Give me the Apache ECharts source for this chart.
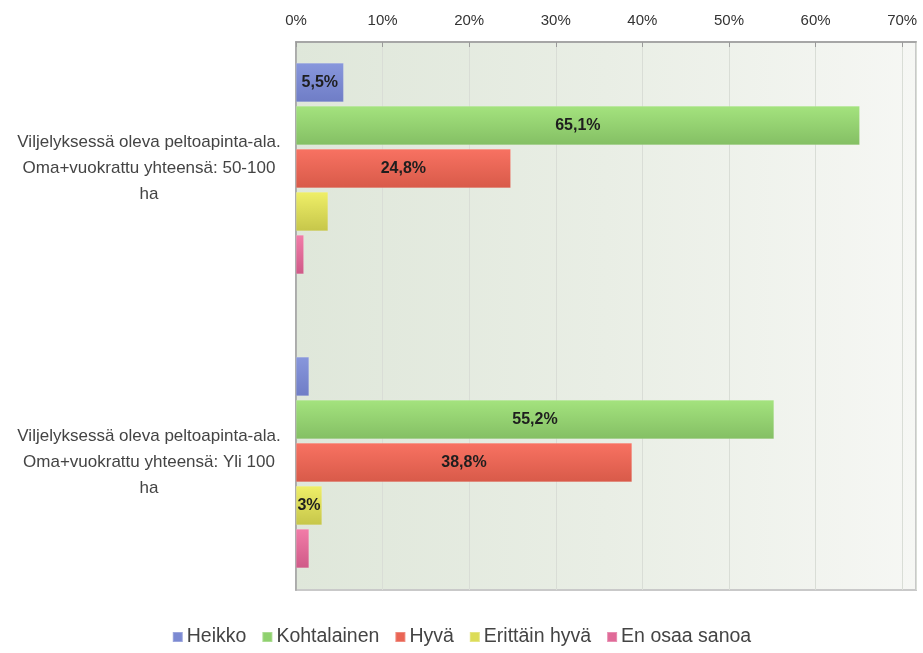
<!DOCTYPE html>
<html>
<head>
<meta charset="utf-8">
<script src="https://cdn.jsdelivr.net/npm/echarts@6/dist/echarts.min.js"></script>
<style>
  html, body { margin: 0; padding: 0; background: #ffffff; }
  #chart { width: 923px; height: 653px; }
</style>
</head>
<body>
<div id="chart"></div>
<script>
// Category labels (left axis), already split into display lines
const categories = [
  'Viljelyksessä oleva peltoapinta-ala.\nOma+vuokrattu yhteensä: 50-100\nha',
  'Viljelyksessä oleva peltoapinta-ala.\nOma+vuokrattu yhteensä: Yli 100\nha'
];

// Answer options (legend order)
const seriesNames = ['Heikko', 'Kohtalainen', 'Hyvä', 'Erittäin hyvä', 'En osaa sanoa'];

// Share of answers, % (one array per answer option, in category order)
const heikko       = [5.5, 1.5];
const kohtalainen  = [65.1, 55.2];
const hyva         = [24.8, 38.8];
const erittainHyva = [3.7, 3.0];
const enOsaa       = [0.9, 1.5];

// Value axis: ticks every 10 %, upper bound 10 % above the largest share
const axisMin = 0;
const axisInterval = 10;
const axisMax = 71.6;

const seriesValues = [heikko, kohtalainen, hyva, erittainHyva, enOsaa];

// Gradient colours per series: [top, bottom]
const palette = [
  ['#8897dc', '#6f7dc6'],
  ['#a4e37e', '#84bf64'],
  ['#f87262', '#d85a49'],
  ['#efef68', '#c6c64a'],
  ['#f27ca8', '#cf5a88']
];
const legendColors = ['#7b89d2', '#8fd16e', '#ea6555', '#dcdc58', '#e06a98'];

const PLOT_LEFT = 296, PLOT_TOP = 42, PLOT_W = 620, PLOT_H = 548;
const LABEL_FONT = 'bold 16px "Liberation Sans", Arial, sans-serif';

const measureCtx = document.createElement('canvas').getContext('2d');
measureCtx.font = LABEL_FONT;

function pctText(v) {
  return String(v).replace('.', ',') + '%';
}

// A value label is drawn only when it fits inside its bar
function barLabel(p) {
  const txt = pctText(p.value);
  const barPx = (p.value - axisMin) / (axisMax - axisMin) * PLOT_W;
  return measureCtx.measureText(txt).width <= barPx ? txt : '';
}

const chart = echarts.init(document.getElementById('chart'), null, { renderer: 'canvas' });

const series = seriesNames.map((name, i) => ({
  name: name,
  type: 'bar',
  xAxisIndex: 1,
  yAxisIndex: 1,
  data: seriesValues[i],
  barWidth: 39,
  barGap: '10.3%',
  itemStyle: {
    color: new echarts.graphic.LinearGradient(0, 0, 0, 1, [
      { offset: 0, color: palette[i][0] },
      { offset: 1, color: palette[i][1] }
    ]),
    borderColor: 'rgba(255,255,255,0.25)',
    borderWidth: 0.5
  },
  label: {
    show: true,
    position: 'inside',
    formatter: barLabel,
    color: '#1e1e1e',
    fontFamily: '"Liberation Sans", Arial, sans-serif',
    fontWeight: 'bold',
    fontSize: 16
  },
  emphasis: { disabled: true }
}));

chart.setOption({
  animation: false,
  backgroundColor: '#ffffff',
  textStyle: { fontFamily: '"Liberation Sans", Arial, sans-serif' },
  grid: [
    {
      // plot frame: background, grid lines, top axis
      left: PLOT_LEFT, top: PLOT_TOP, width: PLOT_W, height: PLOT_H,
      show: true,
      backgroundColor: new echarts.graphic.LinearGradient(0, 0, 1, 0, [
        { offset: 0, color: '#dfe7da' },
        { offset: 0.5, color: '#e9eee5' },
        { offset: 1, color: '#f6f7f4' }
      ]),
      borderColor: '#c9c9c9',
      borderWidth: 2
    },
    {
      // bar layout
      left: PLOT_LEFT, top: 21.5, width: PLOT_W, height: 588
    }
  ],
  xAxis: [
    {
      gridIndex: 0,
      type: 'value',
      position: 'top',
      min: axisMin,
      max: axisMax,
      interval: axisInterval,
      axisLine: { show: true, lineStyle: { color: '#9a9a9a', width: 1.5 } },
      axisTick: { show: true, inside: true, length: 5, lineStyle: { color: '#9a9a9a' } },
      axisLabel: {
        showMaxLabel: false,
        margin: 14,
        color: '#333333',
        fontSize: 15,
        formatter: v => v + '%'
      },
      splitLine: { show: true, lineStyle: { color: '#d9ddd6', width: 1 } }
    },
    {
      gridIndex: 1,
      type: 'value',
      min: axisMin,
      max: axisMax,
      show: false
    }
  ],
  yAxis: [
    {
      gridIndex: 0,
      type: 'category',
      data: [''],
      axisLine: { show: true, lineStyle: { color: '#a0a0a0', width: 1.5 } },
      axisTick: { show: false },
      axisLabel: { show: false }
    },
    {
      gridIndex: 1,
      type: 'category',
      data: categories,
      inverse: true,
      axisLine: { show: false },
      axisTick: { show: false },
      axisLabel: {
        margin: 147,
        align: 'center',
        color: '#444444',
        fontSize: 17,
        lineHeight: 26
      }
    }
  ],
  legend: {
    bottom: 1,
    left: 'center',
    data: seriesNames.map((n, i) => ({ name: n, itemStyle: { color: legendColors[i] } })),
    icon: 'rect',
    itemWidth: 10,
    itemHeight: 10,
    itemGap: 15,
    textStyle: { color: '#444444', fontSize: 19.5, padding: [0, 0, 0, -1] }
  },
  series: series
});
</script>
</body>
</html>
